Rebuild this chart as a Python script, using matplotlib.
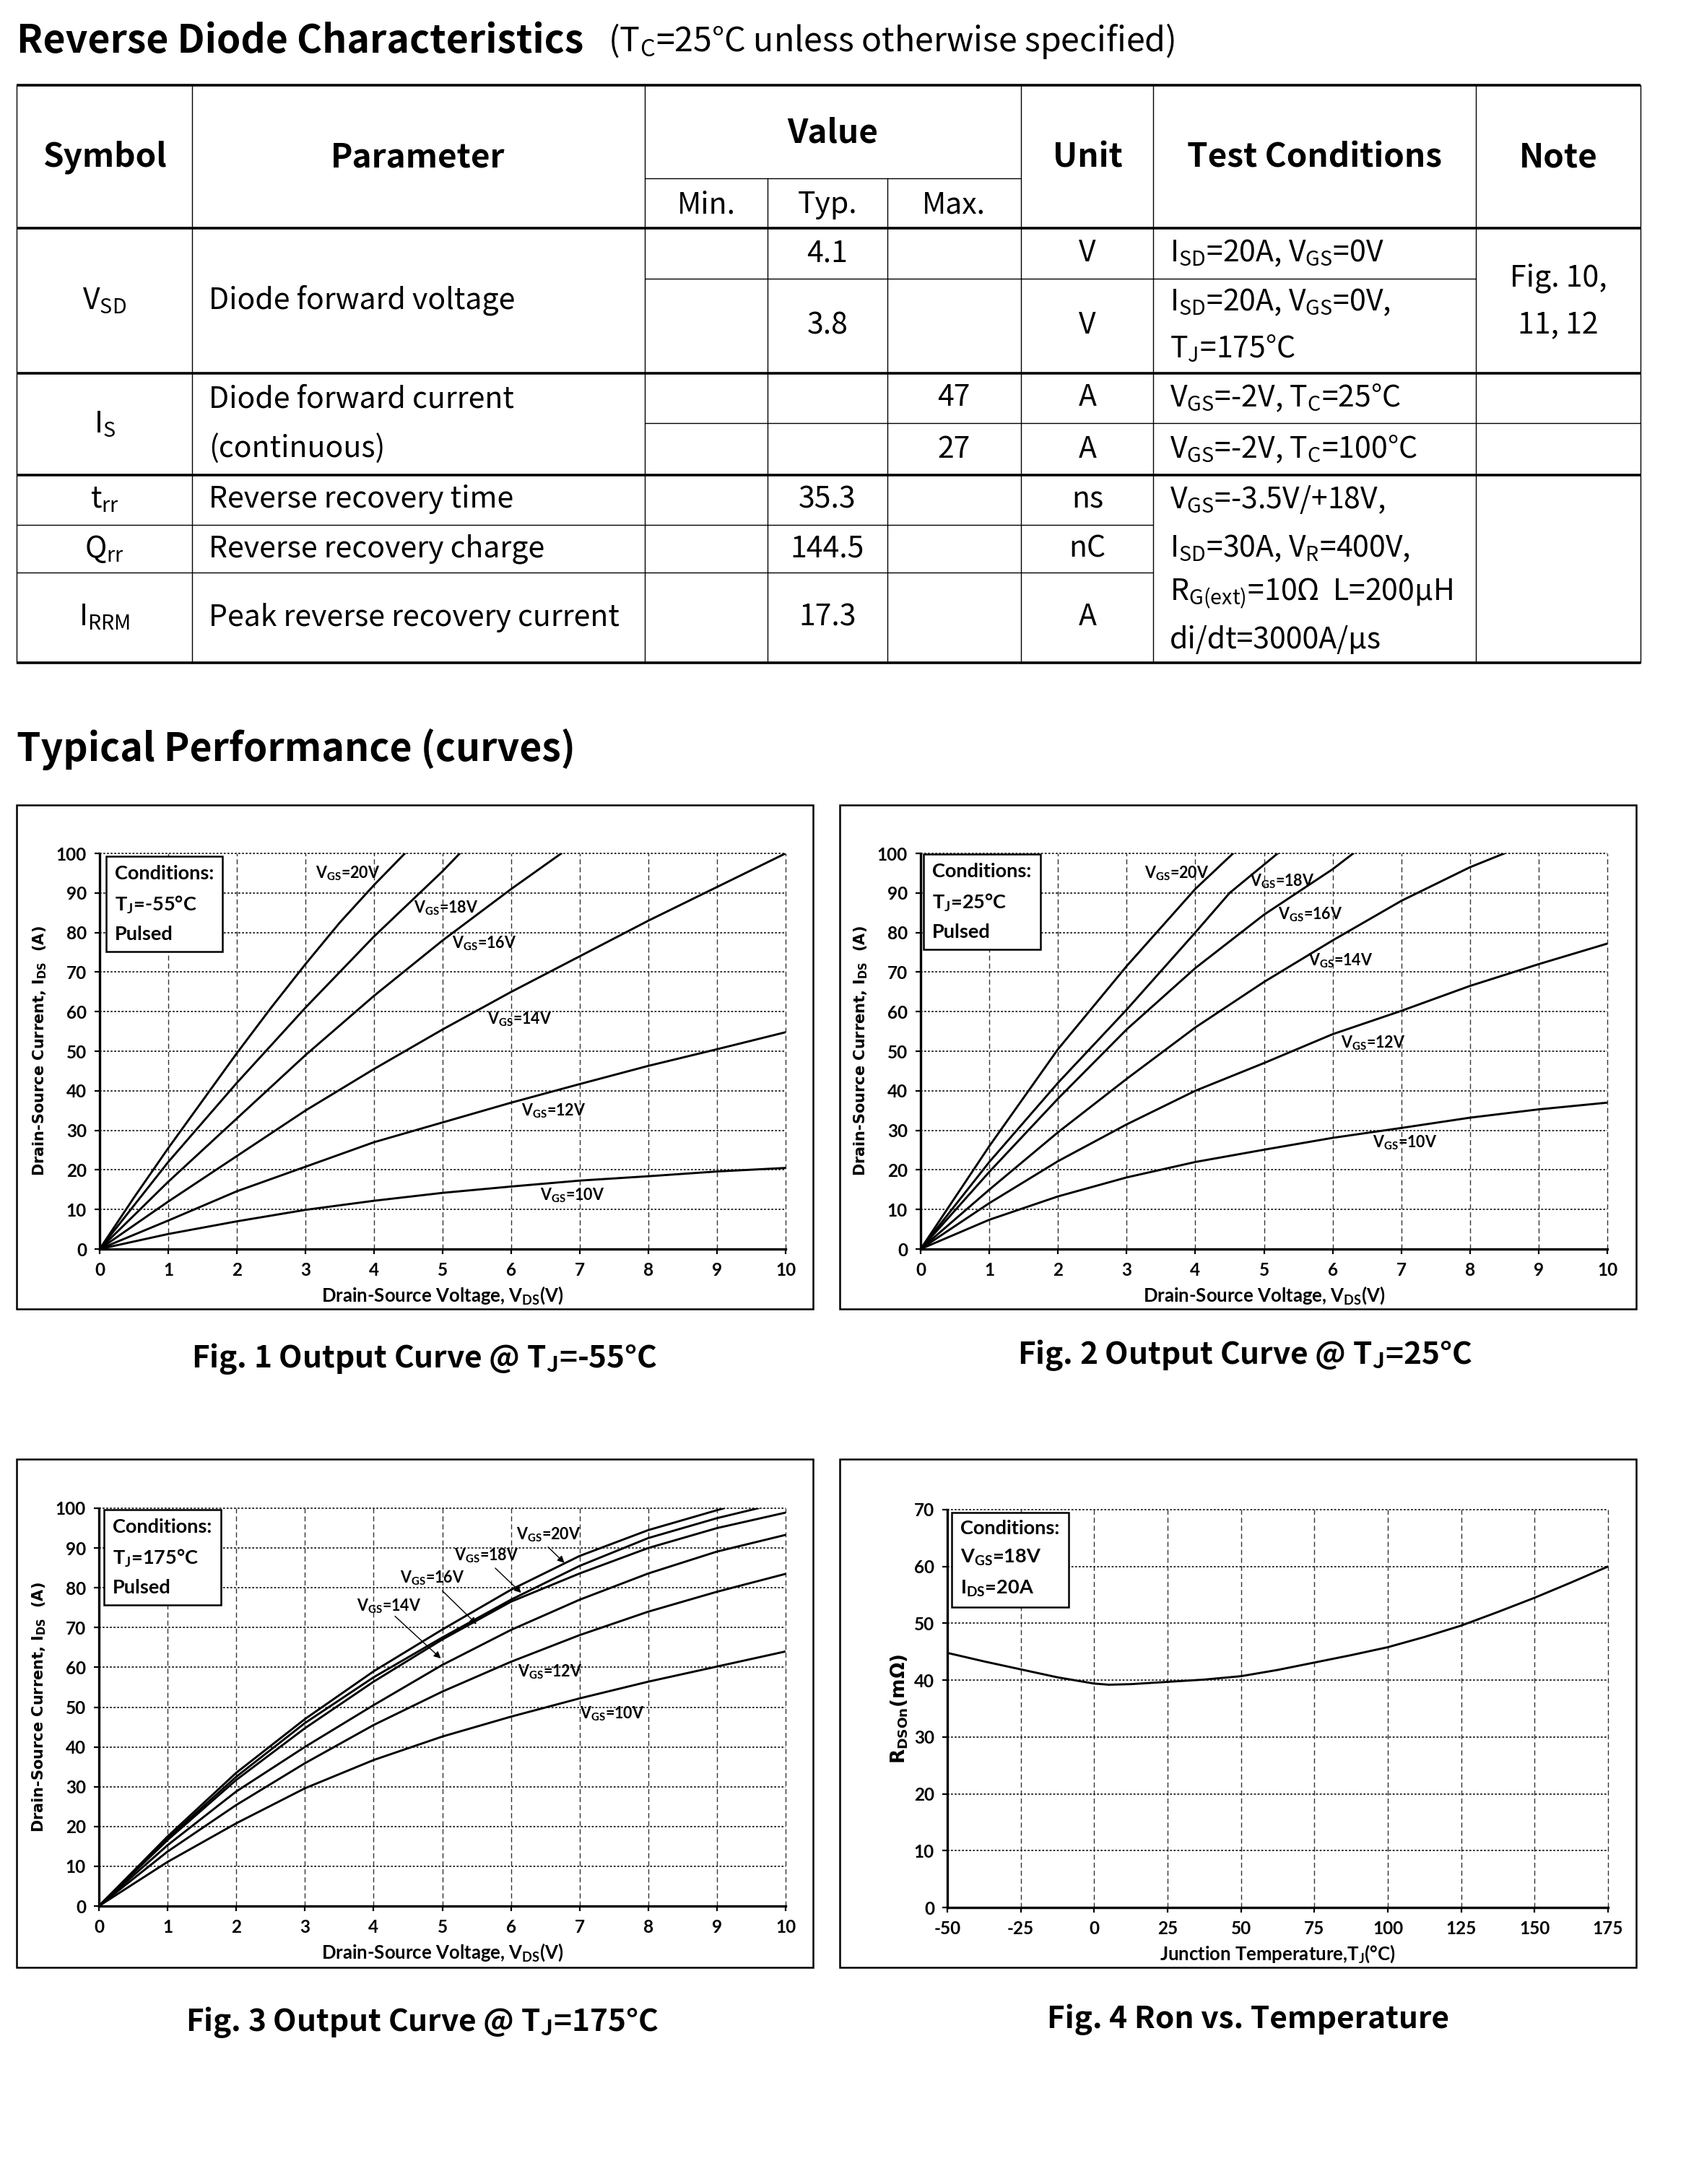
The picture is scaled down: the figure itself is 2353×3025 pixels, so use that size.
import matplotlib.pyplot as plt
from matplotlib.patches import Rectangle

plt.rcParams['axes.unicode_minus'] = False

W, H = 2353, 3025
TABLE_FONT = ['Noto Sans CJK SC', 'DejaVu Sans']
CHART_FONT = ['Lato', 'DejaVu Sans']
WIDE_FONT = ['DejaVu Sans']

# ---------------- table data ----------------
header_labels = ['Symbol', 'Parameter', 'Value', 'Unit', 'Test Conditions', 'Note']
value_labels = ['Min.', 'Typ.', 'Max.']
symbols = [r'V$_{\mathregular{SD}}$', r'I$_{\mathregular{S}}$', r't$_{\mathregular{rr}}$',
           r'Q$_{\mathregular{rr}}$', r'I$_{\mathregular{RRM}}$']
parameters = ['Diode forward voltage', 'Diode forward current', '(continuous)',
              'Reverse recovery time', 'Reverse recovery charge', 'Peak reverse recovery current']
typ_values = ['4.1', '3.8', '', '', '35.3', '144.5', '17.3']
max_values = ['', '', '47', '27', '', '', '']
units = ['V', 'V', 'A', 'A', 'ns', 'nC', 'A']
conditions = [r'I$_{\mathregular{SD}}$=20A, V$_{\mathregular{GS}}$=0V',
              r'I$_{\mathregular{SD}}$=20A, V$_{\mathregular{GS}}$=0V,',
              r'T$_{\mathregular{J}}$=175°C',
              r'V$_{\mathregular{GS}}$=-2V, T$_{\mathregular{C}}$=25°C',
              r'V$_{\mathregular{GS}}$=-2V, T$_{\mathregular{C}}$=100°C',
              r'V$_{\mathregular{GS}}$=-3.5V/+18V,',
              r'I$_{\mathregular{SD}}$=30A, V$_{\mathregular{R}}$=400V,',
              r'R$_{\mathregular{G(ext)}}$=10Ω  L=200μH',
              r'di/dt=3000A/μs']
notes = ['Fig. 10,', '11, 12']

# ---------------- curve data ----------------
vds = [0, 1, 2, 3, 4, 5, 6, 7, 8, 9, 10]
vgs_labels = [r'V$_{\mathregular{GS}}$=20V', r'V$_{\mathregular{GS}}$=18V', r'V$_{\mathregular{GS}}$=16V',
              r'V$_{\mathregular{GS}}$=14V', r'V$_{\mathregular{GS}}$=12V', r'V$_{\mathregular{GS}}$=10V']

# Fig. 1, Tj = -55C
f1_vds_20 = [0, 0.5, 1, 1.5, 2, 2.5, 3, 3.5, 4, 4.45]
f1_ids_20 = [0, 13, 25.5, 37.5, 49.5, 61, 72, 82.5, 92, 100]
f1_vds_18 = [0, 1, 2, 3, 4, 5, 5.25]
f1_ids_18 = [0, 22, 42, 61, 79, 95.5, 100]
f1_vds_16 = [0, 1, 2, 3, 4, 5, 6, 6.73]
f1_ids_16 = [0, 17, 33, 49, 64, 78, 91, 100]
f1_ids_14 = [0, 12, 23.5, 35, 45.5, 55.5, 65, 74, 83, 91.5, 100]
f1_ids_12 = [0, 7.2, 14.6, 20.8, 27, 32, 37, 41.7, 46.3, 50.5, 54.8]
f1_ids_10 = [0, 3.8, 7, 9.9, 12.2, 14.2, 15.8, 17.3, 18.4, 19.6, 20.5]

# Fig. 2, Tj = 25C
f2_vds_20 = [0, 1, 2, 3, 4, 4.55]
f2_ids_20 = [0, 26, 50.5, 71.5, 91, 100]
f2_vds_18 = [0, 1, 2, 3, 4, 4.5, 5.2]
f2_ids_18 = [0, 22, 42, 60.5, 80, 90, 100]
f2_vds_16 = [0, 1, 2, 3, 4, 5, 6, 6.3]
f2_ids_16 = [0, 19.5, 38, 55.5, 71, 84.5, 96, 100]
f2_vds_14 = [0, 1, 2, 3, 4, 5, 6, 7, 8, 8.5]
f2_ids_14 = [0, 15, 29.5, 43, 56, 67.5, 78, 88, 96.5, 100]
f2_ids_12 = [0, 11.6, 22.2, 31.5, 40, 47, 54.3, 60.2, 66.5, 72, 77.2]
f2_ids_10 = [0, 7.4, 13.3, 18.1, 22, 25.1, 28.1, 30.6, 33.2, 35.3, 37]

# Fig. 3, Tj = 175C
f3_vds_20 = [0, 1, 2, 3, 4, 5, 6, 7, 8, 9, 9.1]
f3_ids_20 = [0, 17.5, 33.5, 47, 59, 69.5, 79.5, 88, 94.5, 99.5, 100]
f3_vds_18 = [0, 1, 2, 3, 4, 5, 6, 7, 8, 9, 9.6]
f3_ids_18 = [0, 17, 32.5, 46, 57.5, 67.5, 77, 85.5, 92.5, 97.5, 100]
f3_ids_16 = [0, 16.6, 31.7, 44.7, 56.4, 67, 76.5, 83.6, 90, 95, 98.9]
f3_ids_14 = [0, 15.3, 28.8, 40, 50.5, 60.6, 69.4, 77, 83.6, 89.1, 93.3]
f3_ids_12 = [0, 13.7, 25.4, 35.9, 45.5, 53.9, 61.4, 68.1, 74, 79, 83.5]
f3_ids_10 = [0, 11.1, 20.8, 29.6, 36.7, 42.6, 47.6, 52.2, 56.4, 60.2, 64]

# Fig. 4, Ron vs temperature
tj = [-50, -37.5, -25, -12.5, 0, 5, 12.5, 25, 37.5, 50, 62.5, 75, 87.5, 100, 112.5, 125, 137.5, 150, 162.5, 175]
rdson = [44.8, 43.3, 41.9, 40.5, 39.4, 39.2, 39.3, 39.7, 40.1, 40.7, 41.8, 43.1, 44.4, 45.8, 47.6, 49.6, 52, 54.5, 57.2, 60]

fig = plt.figure(figsize=(W / 100, H / 100), dpi=100)
bg = fig.add_axes([0, 0, 1, 1])
bg.set_xlim(0, W)
bg.set_ylim(H, 0)
bg.axis('off')


def btext(x, y, s, size=28, ha='center', weight='normal', family=TABLE_FONT):
    bg.text(x, y, s, ha=ha, va='center', fontsize=size, fontweight=weight, family=family)


# ---------------- titles ----------------
btext(23, 57, 'Reverse Diode Characteristics', size=38.5, ha='left', weight='bold')
btext(842, 57, r'(T$_{\mathregular{C}}$=25°C unless otherwise specified)', size=33.5, ha='left', weight='light')
btext(23, 1038, 'Typical Performance (curves)', size=38.5, ha='left', weight='bold')

# ---------------- table grid ----------------
col_x = [23, 266, 893, 1063, 1229, 1414, 1597, 2044, 2272]
thick, thin = 2.6, 1.0
h_lines = [(23, 2272, 118, thick), (893, 1414, 247, thin), (23, 2272, 316, thick),
           (893, 2044, 386, thin), (23, 2272, 517, thick), (893, 2272, 586, thin),
           (23, 2272, 658, thick), (23, 1597, 727, thin), (23, 1597, 793, thin),
           (23, 2272, 918, thick)]
for x0, x1, y, lw in h_lines:
    bg.plot([x0, x1], [y, y], color='black', lw=lw, solid_capstyle='butt')
for x in col_x:
    top = 247 if x in (1063, 1229) else 118
    bg.plot([x, x], [top, 918], color='black', lw=thin)

hdr_x = [145, 579, 1153, 1506, 1821, 2158]
hdr_y = [218, 218, 185, 218, 218, 218]
for x, y, s in zip(hdr_x, hdr_y, header_labels):
    btext(x, y, s, size=33, weight='bold')
for x, s in zip([978, 1146, 1321], value_labels):
    btext(x, 284, s, size=29.5)

sym_y = [416, 587, 692, 760, 855]
for y, s in zip(sym_y, symbols):
    btext(145, y, s, size=29.5)
par_y = [416, 553, 621, 692, 760, 855]
for y, s in zip(par_y, parameters):
    btext(289, y, s, size=29.5, ha='left')
row_y = [351, 451, 551, 622, 692, 760, 855]
for y, t, m, u in zip(row_y, typ_values, max_values, units):
    btext(1146, y, t, size=29.5)
    btext(1321, y, m, size=29.5)
    btext(1506, y, u, size=29.5)
cond_y = [351, 419, 482, 551, 622, 692, 760, 822, 886]
for y, s in zip(cond_y, conditions):
    btext(1620, y, s, size=29.5, ha='left')
for y, s in zip([385, 451], notes):
    btext(2158, y, s, size=29.5)


# ---------------- charts ----------------
def frame(x0, y0, x1, y1):
    bg.add_patch(Rectangle((x0, y0), x1 - x0, y1 - y0, fill=False, ec='black', lw=1.8))


def make_axes(x0, y0, x1, y1):
    return fig.add_axes([x0 / W, 1 - y1 / H, (x1 - x0) / W, (y1 - y0) / H])


def style(ax, xticks, yticks, xlabel, ylabel, ysize=15, ypad=8):
    ax.set_xlim(xticks[0], xticks[-1])
    ax.set_ylim(yticks[0], yticks[-1])
    ax.set_xticks(xticks)
    ax.set_yticks(yticks)
    for s in ['top', 'right']:
        ax.spines[s].set_visible(False)
    for s in ['left', 'bottom']:
        ax.spines[s].set_linewidth(2.4)
    ax.tick_params(direction='out', length=5, width=1.6, labelsize=17.5, pad=8)
    for lab in ax.get_xticklabels() + ax.get_yticklabels():
        lab.set_fontweight('bold')
        lab.set_family(CHART_FONT)
    ax.grid(True, axis='y', linestyle=(0, (1.5, 1.3)), color='#222222', lw=1.3)
    ax.grid(True, axis='x', linestyle=(0, (5, 3)), color='#333333', lw=1.0)
    for gl in ax.get_xgridlines() + ax.get_ygridlines():
        gl.set_clip_on(False)
    ax.set_xlabel(xlabel, fontsize=18.5, fontweight='bold', family=CHART_FONT, labelpad=6)
    ax.set_ylabel(ylabel, fontsize=ysize, fontweight='bold', family=WIDE_FONT, labelpad=ypad)


def cond_box(ax, x, y, s):
    ax.text(x, y, s, ha='left', va='top', fontsize=19.5, fontweight='bold', family=CHART_FONT,
            linespacing=1.7, zorder=5,
            bbox=dict(boxstyle='square,pad=0.45', fc='white', ec='black', lw=1.8))


def curve_label(ax, x, y, s):
    ax.text(x, y, s, ha='left', va='center', fontsize=15.5, fontweight='bold', family=CHART_FONT, zorder=4)


x_lab = r'Drain-Source Voltage, V$_{\mathregular{DS}}$(V)'
y_lab = r'Drain-Source Current, I$_{\mathregular{DS}}$  (A)'
ids_ticks = list(range(0, 101, 10))

# Fig. 1
frame(23, 1115, 1126, 1813)
ax1 = make_axes(138, 1182, 1088, 1730)
style(ax1, vds, ids_ticks, x_lab, y_lab)
for xs, ys in [(f1_vds_20, f1_ids_20), (f1_vds_18, f1_ids_18), (f1_vds_16, f1_ids_16),
               (vds, f1_ids_14), (vds, f1_ids_12), (vds, f1_ids_10)]:
    ax1.plot(xs, ys, color='black', lw=2.1)
for (x, y), s in zip([(3.15, 95), (4.58, 86.2), (5.14, 77.3), (5.65, 58), (6.15, 35), (6.42, 13.5)], vgs_labels):
    curve_label(ax1, x, y, s)
cond_box(ax1, 0.22, 97.0, 'Conditions:\n' + r'T$_{\mathregular{J}}$=-55°C' + '\nPulsed')
btext(588, 1882, r'Fig. 1 Output Curve @ T$_{\mathregular{J}}$=-55°C', size=30.5, weight='bold')

# Fig. 2
frame(1163, 1115, 2266, 1813)
ax2 = make_axes(1275, 1182, 2226, 1730)
style(ax2, vds, ids_ticks, x_lab, y_lab)
for xs, ys in [(f2_vds_20, f2_ids_20), (f2_vds_18, f2_ids_18), (f2_vds_16, f2_ids_16),
               (f2_vds_14, f2_ids_14), (vds, f2_ids_12), (vds, f2_ids_10)]:
    ax2.plot(xs, ys, color='black', lw=2.1)
for (x, y), s in zip([(3.26, 95), (4.79, 93), (5.2, 84.6), (5.65, 72.8), (6.12, 52), (6.58, 26.8)], vgs_labels):
    curve_label(ax2, x, y, s)
cond_box(ax2, 0.17, 97.6, 'Conditions:\n' + r'T$_{\mathregular{J}}$=25°C' + '\nPulsed')
btext(1724, 1877, r'Fig. 2 Output Curve @ T$_{\mathregular{J}}$=25°C', size=30.5, weight='bold')

# Fig. 3
frame(23, 2021, 1126, 2725)
ax3 = make_axes(137, 2089, 1088, 2640)
style(ax3, vds, ids_ticks, x_lab, y_lab)
for xs, ys in [(f3_vds_20, f3_ids_20), (f3_vds_18, f3_ids_18), (vds, f3_ids_16),
               (vds, f3_ids_14), (vds, f3_ids_12), (vds, f3_ids_10)]:
    ax3.plot(xs, ys, color='black', lw=2.1)
f3_label_pos = [(6.08, 93.3), (5.17, 88), (4.38, 82.4), (3.75, 75.3), (6.1, 58.9), (7.0, 48.4)]
f3_arrow_from = [(6.52, 90.6), (5.75, 85.3), (4.98, 79.6), (4.29, 73.2)]
f3_arrow_to = [(6.8, 85.9), (6.17, 78.4), (5.52, 70.5), (5.0, 61.9)]
for (x, y), s in zip(f3_label_pos, vgs_labels):
    curve_label(ax3, x, y, s)
for p0, p1 in zip(f3_arrow_from, f3_arrow_to):
    ax3.annotate('', xy=p1, xytext=p0,
                 arrowprops=dict(arrowstyle='-|>', color='black', lw=1.0, mutation_scale=14))
cond_box(ax3, 0.2, 97.4, 'Conditions:\n' + r'T$_{\mathregular{J}}$=175°C' + '\nPulsed')
btext(584, 2801, r'Fig. 3 Output Curve @ T$_{\mathregular{J}}$=175°C', size=30.5, weight='bold')

# Fig. 4
frame(1163, 2021, 2266, 2725)
ax4 = make_axes(1312, 2091, 2227, 2642)
style(ax4, [-50, -25, 0, 25, 50, 75, 100, 125, 150, 175], list(range(0, 71, 10)),
      r'Junction Temperature,T$_{\mathregular{J}}$(°C)', r'R$_{\mathregular{DSOn}}$(mΩ)', ysize=19, ypad=4)
ax4.plot(tj, rdson, color='black', lw=2.1)
cond_box(ax4, -45.5, 68.2, 'Conditions:\n' + r'V$_{\mathregular{GS}}$=18V' + '\n' + r'I$_{\mathregular{DS}}$=20A')
btext(1728, 2797, 'Fig. 4 Ron vs. Temperature', size=30.5, weight='bold')

fig.savefig('out.png', dpi=100)
